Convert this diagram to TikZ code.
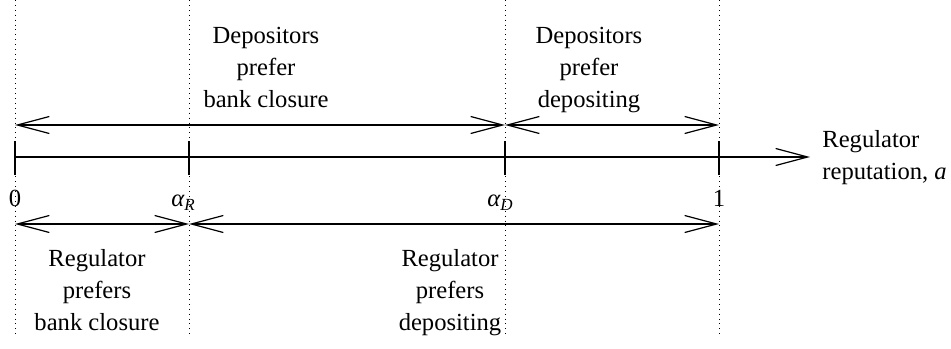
\documentclass[tikz,border=0pt]{standalone}
\usepackage{fontspec}
\setmainfont{Liberation Serif}
\usetikzlibrary{arrows.meta}
\newcommand{\subR}[1]{\raisebox{-2pt}{\fontsize{8.5}{8.5}\selectfont\itshape #1}}
\begin{document}
\begin{tikzpicture}[x=0.5pt,y=-0.5pt,
  guide/.style={dotted, line width=0.45pt},
  axisline/.style={line width=0.6pt},
  onetip/.style={-{Straight Barb[length=16pt,width=8.5pt]}},
  twotip/.style={{Straight Barb[length=16pt,width=8.5pt]}-{Straight Barb[length=16pt,width=8.5pt]}},
  lbl/.style={align=center, font=\fontsize{12.3}{16}\selectfont, inner sep=0pt, anchor=base},
  tick/.style={font=\fontsize{12.3}{16}\selectfont, inner sep=0pt, anchor=base}]
\useasboundingbox (0,0) rectangle (951,348);
\foreach \n/\x in {0/15,R/189,D/505,1/719}{
  \coordinate (t\n) at (\x,0);
  \coordinate (b\n) at (\x,338);
  \coordinate (u\n) at (\x,125);
  \coordinate (l\n) at (\x,224);
  \coordinate (k\n) at (\x,141);
  \coordinate (m\n) at (\x,175);
}
\foreach \n in {0,R,D,1}{
  \draw[guide] (t\n) -- (b\n);
  \draw[axisline] (k\n) -- (m\n);
}
\coordinate (a0) at (15,157);
\coordinate (aend) at (810,157);
\draw[axisline,onetip] (a0) -- (aend);
\draw[axisline,twotip] (u0) -- (uD);
\draw[axisline,twotip] (uD) -- (u1);
\draw[axisline,twotip] (l0) -- (lR);
\draw[axisline,twotip] (lR) -- (l1);
\node[tick] (n0) at (15,206) {0};
\node[tick] (nR) at (183,206) {\itshape α\subR{R}};
\node[tick] (nD) at (500,206) {\itshape α\subR{D}};
\node[tick] (n1) at (719,206) {1};
\node[lbl,align=left,anchor=base west] (axl) at (822,179) {Regulator\\reputation, \textit{a}};
\node[lbl] (dc) at (266,107) {Depositors\\prefer\\bank closure};
\node[lbl] (dd) at (589,107) {Depositors\\prefer\\depositing};
\node[lbl] (rc) at (97,330) {Regulator\\prefers\\bank closure};
\node[lbl] (rd) at (450,330) {Regulator\\prefers\\depositing};
\end{tikzpicture}
\end{document}
